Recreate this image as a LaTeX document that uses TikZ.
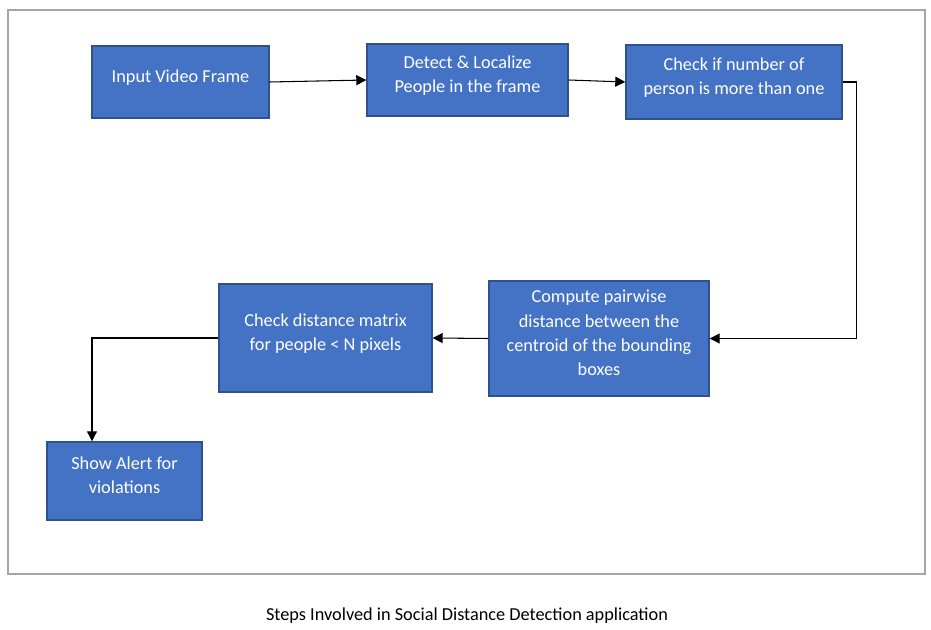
\documentclass[tikz,border=0pt]{standalone}
\usepackage{fontspec}
\setmainfont{Carlito}
\usetikzlibrary{arrows.meta,positioning}

\definecolor{boxfill}{HTML}{4472C4}
\definecolor{boxline}{HTML}{2F528F}
\definecolor{framegray}{HTML}{A6A6A6}

\tikzset{
	stepbox/.style={draw=boxline, fill=boxfill, line width=0.8pt, text=white, align=center,
		font=\fontsize{10.4}{13.7}\selectfont, inner sep=0pt, text depth=0.23cm},
	flow/.style={-{Triangle[length=0.2cm,width=0.2cm]}, line width=0.6pt, black}
}

\begin{document}
\begin{tikzpicture}
		\useasboundingbox (0,0) rectangle (18.62,12.58);
		%outer frame
		\draw[framegray, line width=0.8pt] (0.16,1.10) rectangle (18.5,12.38);
		%first row
		\node[stepbox, minimum width=3.54cm, minimum height=1.44cm] (input) at (3.61,10.94) {Input Video Frame};
		\node[stepbox, minimum width=4.02cm, minimum height=1.44cm] (detect) at (9.35,10.98) {Detect \& Localize\\People in the frame};
		\node[stepbox, minimum width=4.32cm, minimum height=1.48cm] (count) at (14.68,10.94) {Check if number of\\person is more than one};
		%second row
		\node[stepbox, minimum width=4.40cm, minimum height=2.30cm] (pairdist) at (11.98,5.81) {Compute pairwise\\distance between the\\centroid of the bounding\\boxes};
		\node[stepbox, minimum width=4.26cm, minimum height=2.16cm] (matrix) at (6.51,5.82) {Check distance matrix\\for people < N pixels};
		%last step
		\node[stepbox, minimum width=3.10cm, minimum height=1.56cm] (alert) at (2.49,2.96) {Show Alert for\\violations};
		%connectors
		\draw[flow] (input.east) -- (detect.west);
		\draw[flow] (detect.east) -- (count.west);
		\draw[flow] (count.east) -- ++(0.28,0) |- (pairdist.east);
		\draw[flow] (pairdist.west) -- (matrix.east);
		\draw[flow] (matrix.west) -| ([xshift=-0.65cm]alert.north);
		%caption
		\node[font=\fontsize{10.4}{13.7}\selectfont] (caption) at (9.34,0.26) {Steps Involved in Social Distance Detection application};
\end{tikzpicture}
\end{document}
